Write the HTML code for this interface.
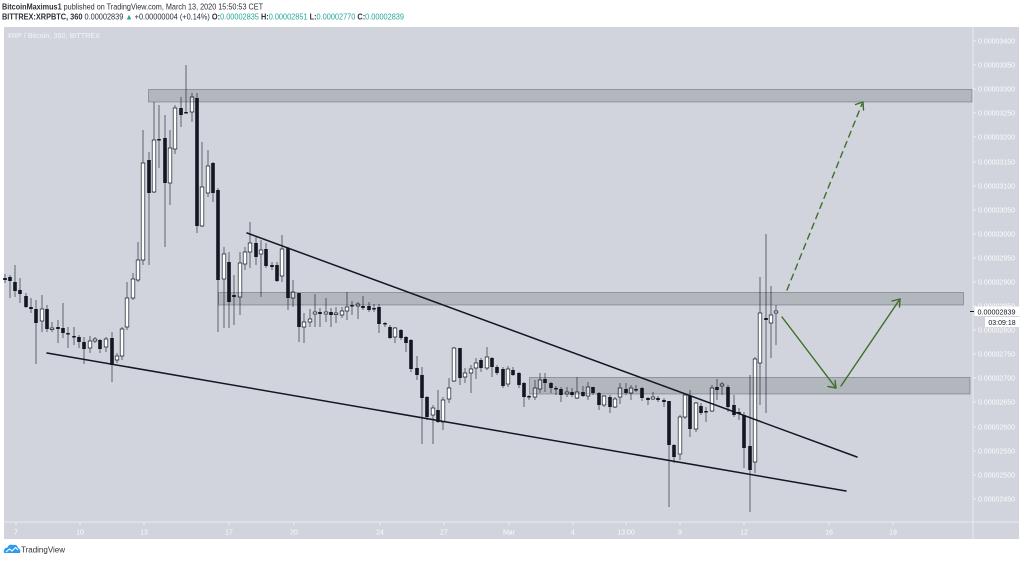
<!DOCTYPE html>
<html><head><meta charset="utf-8"><style>
html,body{margin:0;padding:0;background:#fff;width:1024px;height:561px;overflow:hidden}
svg{display:block}
text{font-family:"Liberation Sans",sans-serif}
.d{fill:#131722}
.w{fill:#fff;stroke:#131722;stroke-width:.7}
.ax{fill:#fbfcfd;font-size:7px}
</style></head><body>
<svg width="1024" height="561" viewBox="0 0 1024 561" xmlns="http://www.w3.org/2000/svg">
<rect width="1024" height="561" fill="#fff"/>
<text x="2" y="9.5" font-size="8.2" fill="#2a2e39" textLength="261" lengthAdjust="spacingAndGlyphs"><tspan font-weight="bold">BitcoinMaximus1</tspan> published on TradingView.com, March 13, 2020 15:50:53 CET</text>
<text x="2" y="19.5" font-size="8.2" fill="#2a2e39" textLength="402" lengthAdjust="spacingAndGlyphs"><tspan font-weight="bold">BITTREX:XRPBTC, 360</tspan> 0.00002839 <tspan fill="#26a69a">▲</tspan> +0.00000004 (+0.14%) <tspan font-weight="bold">O:</tspan><tspan fill="#26a69a">0.00002835</tspan> <tspan font-weight="bold">H:</tspan><tspan fill="#26a69a">0.00002851</tspan> <tspan font-weight="bold">L:</tspan><tspan fill="#26a69a">0.00002770</tspan> <tspan font-weight="bold">C:</tspan><tspan fill="#26a69a">0.00002839</tspan></text>

<rect x="4" y="27" width="1015" height="512" fill="#d1d4dc"/>
<line x1="973" y1="27" x2="973" y2="539" stroke="#e8eaef" stroke-width="1"/>
<line x1="4" y1="522" x2="1019" y2="522" stroke="#e8eaef" stroke-width="1"/>
<text x="7" y="38" font-size="7.5" fill="#f4f5f8" textLength="93" lengthAdjust="spacingAndGlyphs">XRP / Bitcoin, 360, BITTREX</text>

<!-- y axis -->
<g stroke="#eef0f4" stroke-width="1">
<path d="M973 41H976M973 65H976M973 89H976M973 113H976M973 137H976M973 162H976M973 186H976M973 210H976M973 234H976M973 258H976M973 282H976M973 306H976M973 330H976M973 354H976M973 378H976M973 402H976M973 427H976M973 451H976M973 475H976M973 499H976"/>
</g>
<g class="ax">
<text x="978" y="43.5">0.00003400</text>
<text x="978" y="67.5">0.00003350</text>
<text x="978" y="91.5">0.00003300</text>
<text x="978" y="115.5">0.00003250</text>
<text x="978" y="139.5">0.00003200</text>
<text x="978" y="164.5">0.00003150</text>
<text x="978" y="188.5">0.00003100</text>
<text x="978" y="212.5">0.00003050</text>
<text x="978" y="236.5">0.00003000</text>
<text x="978" y="260.5">0.00002950</text>
<text x="978" y="284.5">0.00002900</text>
<text x="978" y="308.5">0.00002850</text>
<text x="978" y="332.5">0.00002800</text>
<text x="978" y="356.5">0.00002750</text>
<text x="978" y="380.5">0.00002700</text>
<text x="978" y="404.5">0.00002650</text>
<text x="978" y="429.5">0.00002600</text>
<text x="978" y="453.5">0.00002550</text>
<text x="978" y="477.5">0.00002500</text>
<text x="978" y="501.5">0.00002450</text>
</g>

<!-- x axis -->
<path d="M16 522.5V525M80 522.5V525M144 522.5V525M229 522.5V525M294 522.5V525M380 522.5V525M444 522.5V525M509 522.5V525M573 522.5V525M626 522.5V525M680 522.5V525M744 522.5V525M829 522.5V525M893 522.5V525" stroke="#eef0f4" stroke-width="1"/>
<g class="ax" text-anchor="middle">
<text x="16" y="534.5">7</text>
<text x="80" y="534.5">10</text>
<text x="144" y="534.5">13</text>
<text x="229" y="534.5">17</text>
<text x="294" y="534.5">20</text>
<text x="380" y="534.5">24</text>
<text x="444" y="534.5">27</text>
<text x="509" y="534.5">Mar</text>
<text x="573" y="534.5">4</text>
<text x="626" y="534.5">13:00</text>
<text x="680" y="534.5">9</text>
<text x="744" y="534.5">12</text>
<text x="829" y="534.5">16</text>
<text x="893" y="534.5">19</text>
</g>

<!-- wicks -->
<path fill="none" stroke="#5f626c" stroke-width="1" d="M5 274V283 M10 275V298 M15 265V297 M20 278V303 M26 293V308 M31 298V313 M36 300V364 M42 295V332 M47 305V332 M52 322V332 M58 320V343 M63 303V338 M68 327V348 M74 327V345 M79 335V348 M84 337V364 M90 336V353 M95 337V343 M100 339V353 M106 337V352 M112 332V382 M117 353V363 M122 327V360 M127 282V330 M133 273V300 M138 242V282 M143 130V265 M149 152V265 M154 102V193 M159 105V168 M165 115V247 M170 130V205 M175 105V154 M181 97V127 M186 65V113 M192 93V122 M197 93V233 M202 142V227 M208 150V197 M213 162V202 M218 188V332 M224 247V328 M229 252V328 M234 275V325 M240 252V315 M245 247V270 M250 222V268 M256 237V265 M261 240V297 M266 243V268 M272 262V270 M277 262V282 M282 235V282 M288 247V310 M293 280V307 M299 293V342 M304 313V343 M310 309V327 M315 294V327 M320 308V327 M326 298V322 M331 308V327 M336 307V323 M342 307V318 M347 292V320 M352 301V315 M358 302V319 M363 296V310 M369 302V312 M374 304V312 M379 304V333 M385 322V327 M390 325V339 M395 327V343 M401 329V340 M406 336V352 M411 339V372 M417 356V380 M422 367V444 M427 396V420 M433 405V444 M438 390V423 M443 397V430 M449 378V403 M454 347V382 M460 348V385 M465 368V383 M471 365V393 M476 358V379 M481 358V372 M487 347V370 M492 357V377 M497 365V375 M503 367V388 M508 366V387 M513 367V376 M519 372V388 M524 382V407 M529 395V400 M535 380V400 M540 373V393 M545 373V392 M551 382V393 M556 386V395 M561 387V402 M567 387V397 M572 388V397 M577 377V399 M583 386V397 M588 382V400 M593 387V395 M599 392V410 M604 395V407 M610 395V413 M615 397V408 M620 383V404 M626 383V395 M631 385V400 M636 385V392 M642 387V401 M648 397V405 M653 392V400 M658 396V402 M664 398V407 M669 401V507 M674 444V463 M680 415V460 M685 393V419 M690 390V437 M696 402V432 M701 403V415 M706 407V422 M712 385V412 M717 379V400 M722 382V395 M728 385V412 M734 395V417 M739 408V420 M744 412V468 M750 375V512 M755 357V473 M760 277V405 M766 234V413 M771 286V358 M776 305V345"/>

<!-- bodies -->
<g>
<rect class="d" x="3.2" y="278" width="3.6" height="2"/>
<rect class="d" x="8.2" y="277" width="3.6" height="4"/>
<rect class="d" x="13.2" y="282" width="3.6" height="9"/>
<rect class="d" x="18.2" y="290" width="3.6" height="4"/>
<rect class="d" x="24.2" y="296" width="3.6" height="11"/>
<rect class="d" x="29.2" y="307" width="3.6" height="2"/>
<rect class="d" x="34.2" y="309" width="3.6" height="14"/>
<rect class="w" x="40.2" y="309" width="3.6" height="12"/>
<rect class="d" x="45.2" y="309" width="3.6" height="20"/>
<rect class="w" x="50.2" y="328" width="3.6" height="1.5"/>
<rect class="d" x="56.2" y="327" width="3.6" height="2"/>
<rect class="d" x="61.2" y="328" width="3.6" height="5"/>
<rect class="d" x="66.2" y="333" width="3.6" height="1.5"/>
<rect class="d" x="72.2" y="336" width="3.6" height="1.5"/>
<rect class="d" x="77.2" y="337" width="3.6" height="5"/>
<rect class="d" x="82.2" y="342" width="3.6" height="7"/>
<rect class="w" x="88.2" y="341" width="3.6" height="7"/>
<rect class="w" x="93.2" y="339" width="3.6" height="2"/>
<rect class="d" x="98.2" y="340" width="3.6" height="9"/>
<rect class="w" x="104.2" y="339" width="3.6" height="8"/>
<rect class="d" x="110.2" y="338" width="3.6" height="27"/>
<rect class="w" x="115.2" y="356" width="3.6" height="4"/>
<rect class="w" x="120.2" y="329" width="3.6" height="27"/>
<rect class="w" x="125.2" y="298" width="3.6" height="29"/>
<rect class="w" x="131.2" y="279" width="3.6" height="19"/>
<rect class="w" x="136.2" y="260" width="3.6" height="20"/>
<rect class="w" x="141.2" y="163" width="3.6" height="97"/>
<rect class="d" x="147.2" y="160" width="3.6" height="33"/>
<rect class="w" x="152.2" y="140" width="3.6" height="52"/>
<rect class="d" x="157.2" y="139" width="3.6" height="1.5"/>
<rect class="d" x="163.2" y="138" width="3.6" height="45"/>
<rect class="w" x="168.2" y="148" width="3.6" height="35"/>
<rect class="w" x="173.2" y="108" width="3.6" height="41"/>
<rect class="d" x="179.2" y="108" width="3.6" height="7"/>
<rect class="d" x="184.2" y="112" width="3.6" height="1.5"/>
<rect class="w" x="190.2" y="97" width="3.6" height="15"/>
<rect class="d" x="195.2" y="98" width="3.6" height="128"/>
<rect class="w" x="200.2" y="187" width="3.6" height="39"/>
<rect class="w" x="206.2" y="166" width="3.6" height="27"/>
<rect class="d" x="211.2" y="163" width="3.6" height="30"/>
<rect class="d" x="216.2" y="190" width="3.6" height="90"/>
<rect class="w" x="222.2" y="254" width="3.6" height="25"/>
<rect class="d" x="227.2" y="262" width="3.6" height="40"/>
<rect class="d" x="232.2" y="295" width="3.6" height="2"/>
<rect class="w" x="238.2" y="263" width="3.6" height="34"/>
<rect class="w" x="243.2" y="252" width="3.6" height="12"/>
<rect class="w" x="248.2" y="243" width="3.6" height="9"/>
<rect class="d" x="254.2" y="243" width="3.6" height="14"/>
<rect class="w" x="259.2" y="250" width="3.6" height="4"/>
<rect class="d" x="264.2" y="249" width="3.6" height="17"/>
<rect class="d" x="270.2" y="265" width="3.6" height="2"/>
<rect class="d" x="275.2" y="265" width="3.6" height="16"/>
<rect class="w" x="280.2" y="249" width="3.6" height="27"/>
<rect class="d" x="286.2" y="248" width="3.6" height="50"/>
<rect class="w" x="291.2" y="292" width="3.6" height="6"/>
<rect class="d" x="297.2" y="293" width="3.6" height="34"/>
<rect class="w" x="302.2" y="322" width="3.6" height="5"/>
<rect class="w" x="308.2" y="319" width="3.6" height="3"/>
<rect class="w" x="313.2" y="312" width="3.6" height="2"/>
<rect class="d" x="318.2" y="312" width="3.6" height="2"/>
<rect class="w" x="324.2" y="312" width="3.6" height="2"/>
<rect class="d" x="329.2" y="312" width="3.6" height="3"/>
<rect class="w" x="334.2" y="313" width="3.6" height="1.5"/>
<rect class="w" x="340.2" y="311" width="3.6" height="4"/>
<rect class="w" x="345.2" y="307" width="3.6" height="4"/>
<rect class="d" x="350.2" y="305" width="3.6" height="1.5"/>
<rect class="w" x="356.2" y="304" width="3.6" height="2"/>
<rect class="d" x="361.2" y="306" width="3.6" height="2"/>
<rect class="d" x="367.2" y="306" width="3.6" height="4"/>
<rect class="d" x="372.2" y="308" width="3.6" height="1.5"/>
<rect class="d" x="377.2" y="307" width="3.6" height="17"/>
<rect class="d" x="383.2" y="323" width="3.6" height="1.5"/>
<rect class="d" x="388.2" y="327" width="3.6" height="11"/>
<rect class="w" x="393.2" y="328" width="3.6" height="9"/>
<rect class="d" x="399.2" y="330" width="3.6" height="8"/>
<rect class="d" x="404.2" y="337" width="3.6" height="6"/>
<rect class="d" x="409.2" y="340" width="3.6" height="29"/>
<rect class="d" x="415.2" y="368" width="3.6" height="7"/>
<rect class="d" x="420.2" y="375" width="3.6" height="23"/>
<rect class="d" x="425.2" y="397" width="3.6" height="20"/>
<rect class="w" x="431.2" y="408" width="3.6" height="7"/>
<rect class="d" x="436.2" y="410" width="3.6" height="12"/>
<rect class="w" x="441.2" y="400" width="3.6" height="22"/>
<rect class="w" x="447.2" y="388" width="3.6" height="11"/>
<rect class="w" x="452.2" y="348" width="3.6" height="33"/>
<rect class="d" x="458.2" y="348" width="3.6" height="30"/>
<rect class="w" x="463.2" y="373" width="3.6" height="4"/>
<rect class="w" x="469.2" y="369" width="3.6" height="4"/>
<rect class="w" x="474.2" y="363" width="3.6" height="5"/>
<rect class="d" x="479.2" y="360" width="3.6" height="8"/>
<rect class="w" x="485.2" y="357" width="3.6" height="11"/>
<rect class="d" x="490.2" y="358" width="3.6" height="9"/>
<rect class="d" x="495.2" y="367" width="3.6" height="6"/>
<rect class="d" x="501.2" y="369" width="3.6" height="17"/>
<rect class="w" x="506.2" y="369" width="3.6" height="15"/>
<rect class="d" x="511.2" y="370" width="3.6" height="5"/>
<rect class="d" x="517.2" y="373" width="3.6" height="12"/>
<rect class="d" x="522.2" y="383" width="3.6" height="14"/>
<rect class="d" x="527.2" y="396" width="3.6" height="1.5"/>
<rect class="w" x="533.2" y="388" width="3.6" height="9"/>
<rect class="w" x="538.2" y="380" width="3.6" height="9"/>
<rect class="d" x="543.2" y="379" width="3.6" height="4"/>
<rect class="d" x="549.2" y="383" width="3.6" height="5"/>
<rect class="d" x="554.2" y="388" width="3.6" height="1.5"/>
<rect class="d" x="559.2" y="389" width="3.6" height="6"/>
<rect class="w" x="565.2" y="392" width="3.6" height="2"/>
<rect class="d" x="570.2" y="392" width="3.6" height="3"/>
<rect class="w" x="575.2" y="392" width="3.6" height="6"/>
<rect class="d" x="581.2" y="392" width="3.6" height="4"/>
<rect class="w" x="586.2" y="387" width="3.6" height="9"/>
<rect class="d" x="591.2" y="387" width="3.6" height="6"/>
<rect class="d" x="597.2" y="393" width="3.6" height="12"/>
<rect class="w" x="602.2" y="396" width="3.6" height="9"/>
<rect class="d" x="608.2" y="397" width="3.6" height="10"/>
<rect class="w" x="613.2" y="399" width="3.6" height="8"/>
<rect class="w" x="618.2" y="388" width="3.6" height="9"/>
<rect class="d" x="624.2" y="389" width="3.6" height="4"/>
<rect class="w" x="629.2" y="388" width="3.6" height="5"/>
<rect class="d" x="634.2" y="389" width="3.6" height="1.5"/>
<rect class="d" x="640.2" y="388" width="3.6" height="10"/>
<rect class="d" x="646.2" y="398" width="3.6" height="2"/>
<rect class="w" x="651.2" y="397" width="3.6" height="2"/>
<rect class="d" x="656.2" y="398" width="3.6" height="2"/>
<rect class="d" x="662.2" y="400" width="3.6" height="2"/>
<rect class="d" x="667.2" y="401" width="3.6" height="44"/>
<rect class="d" x="672.2" y="445" width="3.6" height="12"/>
<rect class="w" x="678.2" y="417" width="3.6" height="37"/>
<rect class="w" x="683.2" y="395" width="3.6" height="22"/>
<rect class="d" x="688.2" y="396" width="3.6" height="33"/>
<rect class="w" x="694.2" y="403" width="3.6" height="26"/>
<rect class="d" x="699.2" y="406" width="3.6" height="7"/>
<rect class="d" x="704.2" y="411" width="3.6" height="1.5"/>
<rect class="w" x="710.2" y="388" width="3.6" height="23"/>
<rect class="d" x="715.2" y="387" width="3.6" height="3"/>
<rect class="w" x="720.2" y="384" width="3.6" height="2"/>
<rect class="d" x="726.2" y="387" width="3.6" height="20"/>
<rect class="d" x="732.2" y="405" width="3.6" height="10"/>
<rect class="d" x="737.2" y="412" width="3.6" height="2"/>
<rect class="d" x="742.2" y="415" width="3.6" height="33"/>
<rect class="d" x="748.2" y="446" width="3.6" height="24"/>
<rect class="w" x="753.2" y="359" width="3.6" height="103"/>
<rect class="w" x="758.2" y="313" width="3.6" height="50"/>
<rect class="d" x="764.2" y="318" width="3.6" height="2"/>
<rect class="w" x="769.2" y="315" width="3.6" height="8"/>
<rect class="w" x="774.2" y="311" width="3.6" height="2"/>
</g>

<!-- zones -->
<g fill="rgba(19,23,34,0.16)" stroke="rgba(19,23,34,0.28)" stroke-width="1">
<rect x="148.5" y="89.5" width="823.5" height="12.5"/>
<rect x="218.5" y="292.5" width="745" height="12.5"/>
<rect x="529.5" y="377.5" width="440.5" height="16.5"/>
</g>

<!-- trendlines -->
<g stroke="#131722" stroke-width="1.5" stroke-linecap="round">
<line x1="247" y1="233" x2="857" y2="457"/>
<line x1="47" y1="353" x2="846" y2="491"/>
</g>

<!-- arrows -->
<g stroke="#3f6f2a" stroke-width="1.4" fill="none" stroke-linecap="round" stroke-linejoin="round">
<line x1="787" y1="290" x2="862" y2="104" stroke-dasharray="6,5"/>
<path d="M855.5 104.5L863 102L863.5 110"/>
<path d="M782 317L836 388"/>
<path d="M828 386.5L836 388L835 380.5"/>
<path d="M841 386L900 299"/>
<path d="M892 301L900 299L899.5 307"/>
</g>

<!-- price label -->
<line x1="970" y1="311.5" x2="974" y2="311.5" stroke="#131722" stroke-width="1"/>
<rect x="974.5" y="306.5" width="45" height="9.5" fill="#fff"/>
<text x="977.5" y="314.3" font-size="7.2" fill="#131722">0.00002839</text>
<rect x="985" y="317" width="34.5" height="10" fill="#fff"/>
<text x="1002" y="325" font-size="7" fill="#131722" text-anchor="middle">03:09:18</text>

<!-- logo -->
<g>
<path d="M4 553 Q3 548 7.5 547.5 Q9 543.5 13 545 Q17 544 18 548 Q21 549 20 553 Z" fill="#2d9bf0"/>
<path d="M6 552 L9.5 549 L12 551 L15.5 547.5 L18 550" stroke="#fff" stroke-width="1.1" fill="none"/>
<text x="21" y="552.5" font-size="8" fill="#333">TradingView</text>
</g>
</svg>
</body></html>
